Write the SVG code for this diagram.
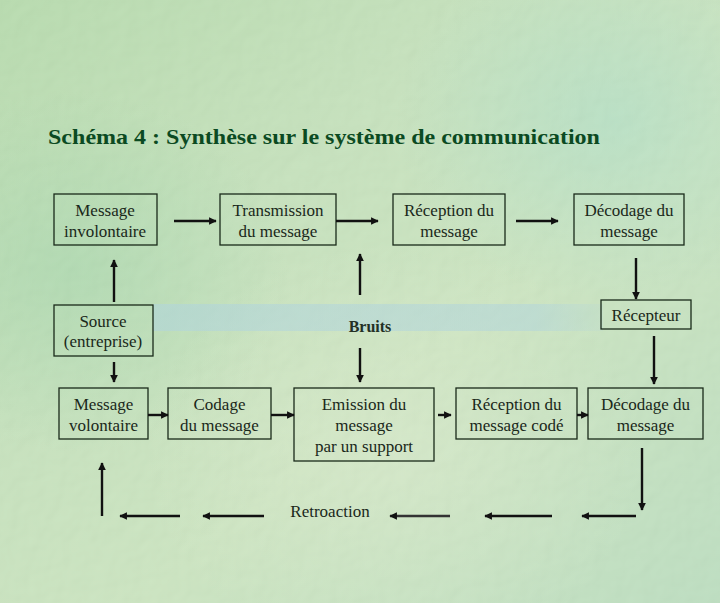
<svg xmlns="http://www.w3.org/2000/svg" width="720" height="603" viewBox="0 0 720 603">
<defs>
<linearGradient id="bg" x1="0" y1="0" x2="1" y2="1">
<stop offset="0" stop-color="#b2d9a8"/>
<stop offset="0.35" stop-color="#c2e0b8"/>
<stop offset="0.6" stop-color="#c8e3bc"/>
<stop offset="1" stop-color="#b8dcbc"/>
</linearGradient>
<radialGradient id="g1" cx="0.1" cy="0.45" r="0.3">
<stop offset="0" stop-color="#9fd3a6" stop-opacity="0.6"/>
<stop offset="1" stop-color="#9fd3a6" stop-opacity="0"/>
</radialGradient>
<radialGradient id="g2" cx="0.55" cy="0.75" r="0.35">
<stop offset="0" stop-color="#dcebcc" stop-opacity="0.5"/>
<stop offset="1" stop-color="#dcebcc" stop-opacity="0"/>
</radialGradient>
<radialGradient id="g3" cx="0.85" cy="0.2" r="0.3">
<stop offset="0" stop-color="#a8dcc4" stop-opacity="0.6"/>
<stop offset="1" stop-color="#a8dcc4" stop-opacity="0"/>
</radialGradient>
<linearGradient id="band" x1="0" y1="0" x2="1" y2="0">
<stop offset="0" stop-color="#b0d4de" stop-opacity="0.55"/>
<stop offset="0.85" stop-color="#b0d4de" stop-opacity="0.5"/>
<stop offset="1" stop-color="#b0d4de" stop-opacity="0.15"/>
</linearGradient>
<filter id="tex" x="0" y="0" width="100%" height="100%">
<feTurbulence type="fractalNoise" baseFrequency="0.06" numOctaves="2" seed="4" result="n"/>
<feDiffuseLighting in="n" surfaceScale="1.5" lighting-color="#ffffff" result="l">
<feDistantLight azimuth="225" elevation="55"/>
</feDiffuseLighting>
</filter>
<marker id="ah" viewBox="0 0 10 10" refX="9" refY="5" markerWidth="3.2" markerHeight="3.2" orient="auto" markerUnits="strokeWidth">
<path d="M0,0 L10,5 L0,10 z" fill="#111"/>
</marker>
<style>
.box{fill:none;stroke:#1a2a1a;stroke-width:1.3}
.t{font-size:17px;fill:#1a281a;text-anchor:middle}
.c line{stroke:#111;stroke-width:2.4;marker-end:url(#ah)}
</style>
</defs>
<rect width="720" height="603" fill="url(#bg)"/>
<rect width="720" height="603" fill="url(#g1)"/>
<rect width="720" height="603" fill="url(#g2)"/>
<rect width="720" height="603" fill="url(#g3)"/>
<rect width="720" height="603" filter="url(#tex)" opacity="0.12"/>
<rect x="153" y="304" width="450" height="27" fill="url(#band)"/>

<g font-family="Liberation Serif, Times New Roman, serif">
<text x="48" y="144" font-weight="bold" font-size="21" fill="#0b4a22" textLength="552" lengthAdjust="spacingAndGlyphs">Schéma 4 : Synthèse sur le système de communication</text>

<g id="n1"><rect class="box" x="54" y="194" width="103" height="51"/><text class="t" x="105" y="216">Message</text><text class="t" x="105" y="237">involontaire</text></g>
<g id="n2"><rect class="box" x="220" y="194" width="116" height="51"/><text class="t" x="278" y="216">Transmission</text><text class="t" x="278" y="237">du message</text></g>
<g id="n3"><rect class="box" x="393" y="194" width="112" height="51"/><text class="t" x="449" y="216">Réception du</text><text class="t" x="449" y="237">message</text></g>
<g id="n4"><rect class="box" x="574" y="194" width="110" height="51"/><text class="t" x="629" y="216">Décodage du</text><text class="t" x="629" y="237">message</text></g>
<g id="n5"><rect class="box" x="54" y="305" width="99" height="51"/><text class="t" x="103" y="327">Source</text><text class="t" x="103" y="347">(entreprise)</text></g>
<g id="n6"><text x="370" y="332" font-weight="bold" font-size="16" fill="#243024" text-anchor="middle">Bruits</text></g>
<g id="n7"><rect class="box" x="601" y="300" width="90" height="29"/><text class="t" x="646" y="321">Récepteur</text></g>
<g id="n8"><rect class="box" x="59" y="388" width="89" height="51"/><text class="t" x="103.5" y="410">Message</text><text class="t" x="103.5" y="431">volontaire</text></g>
<g id="n9"><rect class="box" x="168" y="388" width="103" height="51"/><text class="t" x="219.5" y="410">Codage</text><text class="t" x="219.5" y="431">du message</text></g>
<g id="n10"><rect class="box" x="294" y="388" width="140" height="73"/><text class="t" x="364" y="410">Emission du</text><text class="t" x="364" y="431">message</text><text class="t" x="364" y="452">par un support</text></g>
<g id="n11"><rect class="box" x="456" y="388" width="121" height="51"/><text class="t" x="516.5" y="410">Réception du</text><text class="t" x="516.5" y="431">message codé</text></g>
<g id="n12"><rect class="box" x="588" y="388" width="115" height="51"/><text class="t" x="645.5" y="410">Décodage du</text><text class="t" x="645.5" y="431">message</text></g>
<g id="n13"><text class="t" x="330" y="517">Retroaction</text></g>
</g>

<g id="connectors" class="c">
<line x1="174" y1="221" x2="216" y2="221"/>
<line x1="336" y1="221" x2="378" y2="221"/>
<line x1="516" y1="221" x2="558" y2="221"/>
<line x1="114" y1="302" x2="114" y2="260"/>
<line x1="360" y1="295" x2="360" y2="254"/>
<line x1="636" y1="258" x2="636" y2="299"/>
<line x1="654" y1="336" x2="654" y2="384"/>
<line x1="114" y1="362" x2="114" y2="382"/>
<line x1="360" y1="348" x2="360" y2="382"/>
<line x1="148" y1="415" x2="168" y2="415"/>
<line x1="271" y1="415" x2="294" y2="415"/>
<line x1="438" y1="415" x2="451" y2="415"/>
<line x1="577" y1="415" x2="588" y2="415"/>
<line x1="642" y1="448" x2="642" y2="510"/>
<line x1="636" y1="516" x2="582" y2="516"/>
<line x1="552" y1="516" x2="485" y2="516"/>
<line x1="450" y1="516" x2="390" y2="516" style="stroke:#333"/>
<line x1="264" y1="516" x2="203" y2="516"/>
<line x1="180" y1="516" x2="120" y2="516"/>
<line x1="102" y1="516" x2="102" y2="463"/>
</g>
</svg>
